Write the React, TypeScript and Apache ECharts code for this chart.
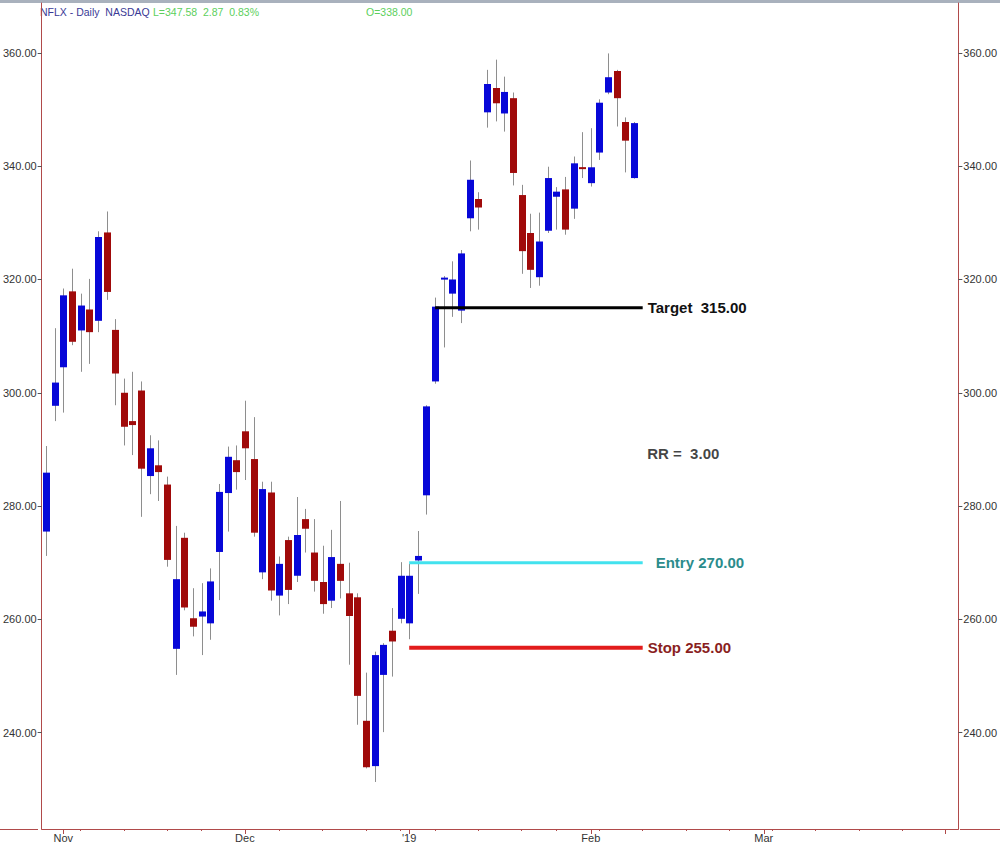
import React, { useEffect, useRef } from 'react';
import * as echarts from 'echarts';

// Category axis: trading days shown on the chart, then empty future weekdays
const dates = [
  '2018-10-30', '2018-10-31',
  '2018-11-01', '2018-11-02', '2018-11-05', '2018-11-06', '2018-11-07', '2018-11-08', '2018-11-09',
  '2018-11-12', '2018-11-13', '2018-11-14', '2018-11-15', '2018-11-16', '2018-11-19', '2018-11-20',
  '2018-11-21', '2018-11-23', '2018-11-26', '2018-11-27', '2018-11-28', '2018-11-29', '2018-11-30',
  '2018-12-03', '2018-12-04', '2018-12-06', '2018-12-07', '2018-12-10', '2018-12-11', '2018-12-12',
  '2018-12-13', '2018-12-14', '2018-12-17', '2018-12-18', '2018-12-19', '2018-12-20', '2018-12-21',
  '2018-12-24', '2018-12-26', '2018-12-27', '2018-12-28', '2018-12-31',
  '2019-01-02', '2019-01-03', '2019-01-04', '2019-01-07', '2019-01-08', '2019-01-09', '2019-01-10',
  '2019-01-11', '2019-01-14', '2019-01-15', '2019-01-16', '2019-01-17', '2019-01-18', '2019-01-22',
  '2019-01-23', '2019-01-24', '2019-01-25', '2019-01-28', '2019-01-29', '2019-01-30', '2019-01-31',
  '2019-02-01', '2019-02-04', '2019-02-05', '2019-02-06', '2019-02-07', '2019-02-08',
  '2019-02-11', '2019-02-12', '2019-02-13', '2019-02-14', '2019-02-15', '2019-02-18', '2019-02-19',
  '2019-02-20', '2019-02-21', '2019-02-22', '2019-02-25', '2019-02-26', '2019-02-27', '2019-02-28',
  '2019-03-01', '2019-03-04', '2019-03-05', '2019-03-06', '2019-03-07', '2019-03-08', '2019-03-11',
  '2019-03-12', '2019-03-13', '2019-03-14', '2019-03-15', '2019-03-18', '2019-03-19', '2019-03-20',
  '2019-03-21', '2019-03-22', '2019-03-25', '2019-03-26', '2019-03-27', '2019-03-28', '2019-03-29',
  '2019-04-01', '2019-04-02',
];

const opens = [
  275.5, 297.7,
  304.5, 317.9, 311.0, 314.7, 312.7, 328.3, 311.1, 300.0, 295.0, 300.4, 285.3, 287.2, 283.8, 254.8,
  274.4, 260.2, 260.5, 259.3, 271.9, 282.3, 288.1,
  293.2, 288.3, 268.3, 282.4, 264.2, 274.0, 267.7, 277.7, 271.8, 266.6, 263.3, 269.8, 264.6, 263.9,
  242.1, 234.1, 250.2, 258.0, 260.1,
  259.3, 270.4, 281.9, 302.0, 320.0, 317.5, 314.5, 330.8, 334.2, 349.5, 353.8, 349.3, 352.0, 334.9,
  328.2, 320.4, 328.6, 334.6, 335.9, 332.5, 339.8,
  337.0, 342.4, 353.0, 356.8, 347.8, 337.9,
];
const highs = [
  290.6, 311.4,
  318.4, 321.9, 317.5, 320.1, 328.5, 332.0, 313.0, 302.5, 303.7, 302.0, 292.5, 291.6, 285.2, 276.5,
  275.3, 265.5, 266.4, 269.0, 283.9, 290.5, 290.7,
  298.6, 295.7, 284.3, 284.3, 271.1, 274.6, 281.6, 279.5, 277.7, 273.0, 275.8, 280.9, 270.0, 264.6,
  250.6, 254.3, 255.8, 262.0, 270.1,
  269.8, 275.6, 297.8, 316.8, 320.6, 323.2, 325.2, 341.0, 335.4, 357.0, 358.8, 355.8, 353.0, 336.7,
  331.6, 331.8, 339.9, 336.3, 338.1, 341.7, 346.0,
  346.7, 351.8, 359.9, 357.0, 348.6, 347.8,
];
const lows = [
  271.2, 295.0,
  296.5, 308.4, 303.7, 305.1, 310.7, 316.4, 297.8, 290.7, 289.0, 278.1, 282.1, 280.9, 269.3, 250.2,
  261.6, 257.0, 253.7, 256.4, 263.4, 275.5, 282.9,
  284.6, 274.6, 267.1, 263.3, 260.7, 262.7, 266.6, 271.8, 264.9, 261.0, 262.0, 263.7, 252.0, 241.4,
  233.7, 231.3, 240.1, 249.9, 259.3,
  256.5, 264.5, 278.5, 301.6, 308.0, 313.4, 312.3, 328.5, 328.8, 346.8, 347.9, 346.1, 336.6, 321.0,
  318.5, 318.9, 328.2, 328.8, 327.9, 330.7, 337.9,
  336.4, 341.1, 352.7, 347.0, 338.9, 337.8,
];
const closes = [
  285.9, 301.8,
  317.2, 309.0, 315.4, 310.7, 327.5, 317.8, 303.4, 294.0, 294.3, 286.6, 290.2, 286.0, 270.5, 267.1,
  262.1, 258.7, 261.4, 266.7, 282.5, 288.7, 286.0,
  290.2, 275.3, 283.0, 265.1, 269.8, 265.2, 274.9, 276.0, 266.8, 262.7, 271.0, 266.8, 260.6, 246.5,
  233.9, 253.7, 255.5, 256.1, 267.7,
  267.7, 271.2, 297.6, 315.2, 320.3, 320.0, 324.6, 337.6, 332.7, 354.5, 351.1, 353.1, 338.8, 325.0,
  321.7, 326.7, 337.9, 335.5, 328.8, 340.5, 339.5,
  339.8, 351.2, 355.7, 352.0, 344.5, 347.6,
];

// Month ticks on the date axis and their labels
const monthTickDates = ['2018-11-01', '2018-12-03', '2019-01-02', '2019-02-01', '2019-03-01', '2019-04-01'];
const monthTickLabels = ['Nov', 'Dec', "'19", 'Feb', 'Mar', ''];

// Price axis range
const priceMin = 223.0;
const priceMax = 368.8;

// Trade levels drawn on the chart
const levelNames = ['Target', 'Entry', 'Stop'];
const levelValues = [315, 270, 255];
const levelStartDates = ['2019-01-07', '2019-01-02', '2019-01-02'];
const levelEndDates = ['2019-02-11', '2019-02-11', '2019-02-11'];
const levelLabels = ['Target  315.00', 'Entry 270.00', 'Stop 255.00'];

const rrText = 'RR =  3.00';
const rrDate = '2019-02-11';
const rrValue = 289.2;

const headerTitle = 'NFLX - Daily  NASDAQ';
const headerLast = 'L=347.58  2.87  0.83%';
const headerOpen = 'O=338.00';

const FONT = '"Liberation Sans", Arial, sans-serif';
const AXIS_COLOR = '#b04a4a';
const UP = '#0707d8';
const DOWN = '#a00a0a';
const WICK = '#8e8e8e';
const levelColors = ['#000000', '#42e2ee', '#e21c1c'];
const levelLabelColors = ['#111111', '#2b8c8c', '#8a1f1f'];
const levelWidths = [3, 3, 4];
const levelGaps = [5, 13, 5];

export default function App() {
  const ref = useRef<HTMLDivElement>(null);

  useEffect(() => {
    if (!ref.current) return;
    const chart = echarts.init(ref.current, undefined, { renderer: 'svg' });

    const monthIdx = monthTickDates.map((d) => dates.indexOf(d));
    const dayOfWeek = (s: string) => new Date(s + 'T00:00:00Z').getUTCDay();
    const weekIdx: number[] = [];
    for (let i = 1; i < dates.length; i++) {
      if (dayOfWeek(dates[i]) < dayOfWeek(dates[i - 1]) && monthIdx.indexOf(i) < 0) weekIdx.push(i);
    }

    const candles = opens.map((o, i) => [i, o, closes[i], lows[i], highs[i]]);

    const levelSeries = levelNames.map((name, k) => ({
      name,
      type: 'line',
      xAxisIndex: 0,
      yAxisIndex: 0,
      silent: true,
      symbol: 'none',
      data: [
        [dates.indexOf(levelStartDates[k]), levelValues[k]],
        [dates.indexOf(levelEndDates[k]), levelValues[k]],
      ],
      lineStyle: { color: levelColors[k], width: levelWidths[k] },
      endLabel: {
        show: true,
        formatter: levelLabels[k],
        distance: levelGaps[k],
        color: levelLabelColors[k],
        fontFamily: FONT,
        fontWeight: 'bold',
        fontSize: 15,
      },
      z: 3,
    }));

    const labelStyle = { color: '#333333', fontFamily: FONT, fontSize: 11 };

    chart.setOption({
      animation: false,
      backgroundColor: '#ffffff',
      grid: { left: 38, right: 40, top: 3, bottom: 14, containLabel: false },
      xAxis: [
        {
          type: 'category',
          data: dates,
          boundaryGap: true,
          axisLine: { show: true, lineStyle: { color: AXIS_COLOR, width: 1 } },
          axisTick: {
            show: true,
            alignWithLabel: true,
            length: 5,
            interval: (i: number) => monthIdx.indexOf(i) >= 0,
            lineStyle: { color: AXIS_COLOR },
          },
          axisLabel: {
            ...labelStyle,
            margin: 3,
            interval: (i: number) => monthIdx.indexOf(i) >= 0,
            formatter: (_v: string, i: number) => {
              const k = monthIdx.indexOf(i);
              return k >= 0 ? monthTickLabels[k] : '';
            },
          },
          splitLine: { show: false },
        },
        {
          type: 'category',
          data: dates,
          position: 'bottom',
          boundaryGap: true,
          axisLine: { show: false },
          axisTick: {
            show: true,
            alignWithLabel: true,
            length: 2,
            interval: (i: number) => weekIdx.indexOf(i) >= 0,
            lineStyle: { color: AXIS_COLOR },
          },
          axisLabel: { show: false },
          splitLine: { show: false },
        },
      ],
      yAxis: [
        {
          type: 'value',
          position: 'left',
          min: priceMin,
          max: priceMax,
          splitNumber: 7,
          axisLine: { show: true, lineStyle: { color: AXIS_COLOR } },
          axisTick: { show: true, length: 4, lineStyle: { color: '#555555' } },
          axisLabel: {
            ...labelStyle,
            margin: 5,
            showMinLabel: false,
            showMaxLabel: false,
            formatter: (v: number) => (Math.abs(v / 20 - Math.round(v / 20)) < 1e-6 ? v.toFixed(2) : ''),
          },
          splitLine: { show: false },
        },
        {
          type: 'value',
          position: 'right',
          min: priceMin,
          max: priceMax,
          splitNumber: 7,
          axisLine: { show: true, lineStyle: { color: AXIS_COLOR } },
          axisTick: { show: true, length: 4, lineStyle: { color: '#555555' } },
          axisLabel: {
            ...labelStyle,
            margin: 5,
            showMinLabel: false,
            showMaxLabel: false,
            formatter: (v: number) => (Math.abs(v / 20 - Math.round(v / 20)) < 1e-6 ? v.toFixed(2) : ''),
          },
          splitLine: { show: false },
        },
      ],
      series: [
        {
          name: 'NFLX',
          type: 'custom',
          xAxisIndex: 0,
          yAxisIndex: 0,
          data: candles,
          encode: { x: 0, y: [1, 2, 3, 4] },
          z: 2,
          renderItem: (_params: any, api: any) => {
            const i = api.value(0);
            const o = api.value(1);
            const c = api.value(2);
            const l = api.value(3);
            const h = api.value(4);
            const pO = api.coord([i, o]);
            const pC = api.coord([i, c]);
            const pL = api.coord([i, l]);
            const pH = api.coord([i, h]);
            const cx = Math.round(pO[0]) + 0.5;
            const w = 7;
            let top = Math.min(pO[1], pC[1]);
            let hgt = Math.abs(pO[1] - pC[1]);
            if (hgt < 2) {
              top -= (2 - hgt) / 2;
              hgt = 2;
            }
            return {
              type: 'group',
              children: [
                {
                  type: 'line',
                  shape: { x1: cx, y1: pH[1], x2: cx, y2: pL[1] },
                  style: { stroke: WICK, lineWidth: 1 },
                },
                {
                  type: 'rect',
                  shape: { x: cx - w / 2, y: top, width: w, height: hgt },
                  style: { fill: c >= o ? UP : DOWN },
                },
              ],
            };
          },
        },
        ...levelSeries,
        {
          name: 'RR',
          type: 'scatter',
          xAxisIndex: 0,
          yAxisIndex: 0,
          silent: true,
          symbol: 'circle',
          symbolSize: 1,
          itemStyle: { color: 'rgba(255,255,255,0)' },
          data: [[dates.indexOf(rrDate), rrValue]],
          label: {
            show: true,
            position: 'right',
            distance: 4,
            formatter: rrText,
            color: '#111111',
            fontFamily: FONT,
            fontWeight: 'bold',
            fontSize: 15,
          },
          labelLayout: { hideOverlap: false },
          z: 3,
        },
      ],
      graphic: [
        { type: 'rect', left: 0, top: 0, shape: { width: 1000, height: 3 }, style: { fill: '#a9b1bd' }, silent: true },
        { type: 'line', shape: { x1: 0, y1: 829.5, x2: 38, y2: 829.5 }, style: { stroke: AXIS_COLOR, lineWidth: 1 }, silent: true },
        { type: 'line', shape: { x1: 960, y1: 829.5, x2: 1000, y2: 829.5 }, style: { stroke: AXIS_COLOR, lineWidth: 1 }, silent: true },
        {
          type: 'text', x: 40, y: 12,
          style: { text: headerTitle, fill: '#3a3a96', font: '10.5px ' + FONT, textVerticalAlign: 'middle' },
          silent: true,
        },
        {
          type: 'text', x: 153, y: 12,
          style: { text: headerLast, fill: '#5ccf5c', font: '10.5px ' + FONT, textVerticalAlign: 'middle' },
          silent: true,
        },
        {
          type: 'text', x: 366, y: 12,
          style: { text: headerOpen, fill: '#5ccf5c', font: '10.5px ' + FONT, textVerticalAlign: 'middle' },
          silent: true,
        },
      ],
    });

    return () => {
      chart.dispose();
    };
  }, []);

  return (
    <div
      ref={ref}
      style={{ position: 'fixed', left: 0, top: 0, width: 1000, height: 843, background: '#ffffff' }}
    />
  );
}
